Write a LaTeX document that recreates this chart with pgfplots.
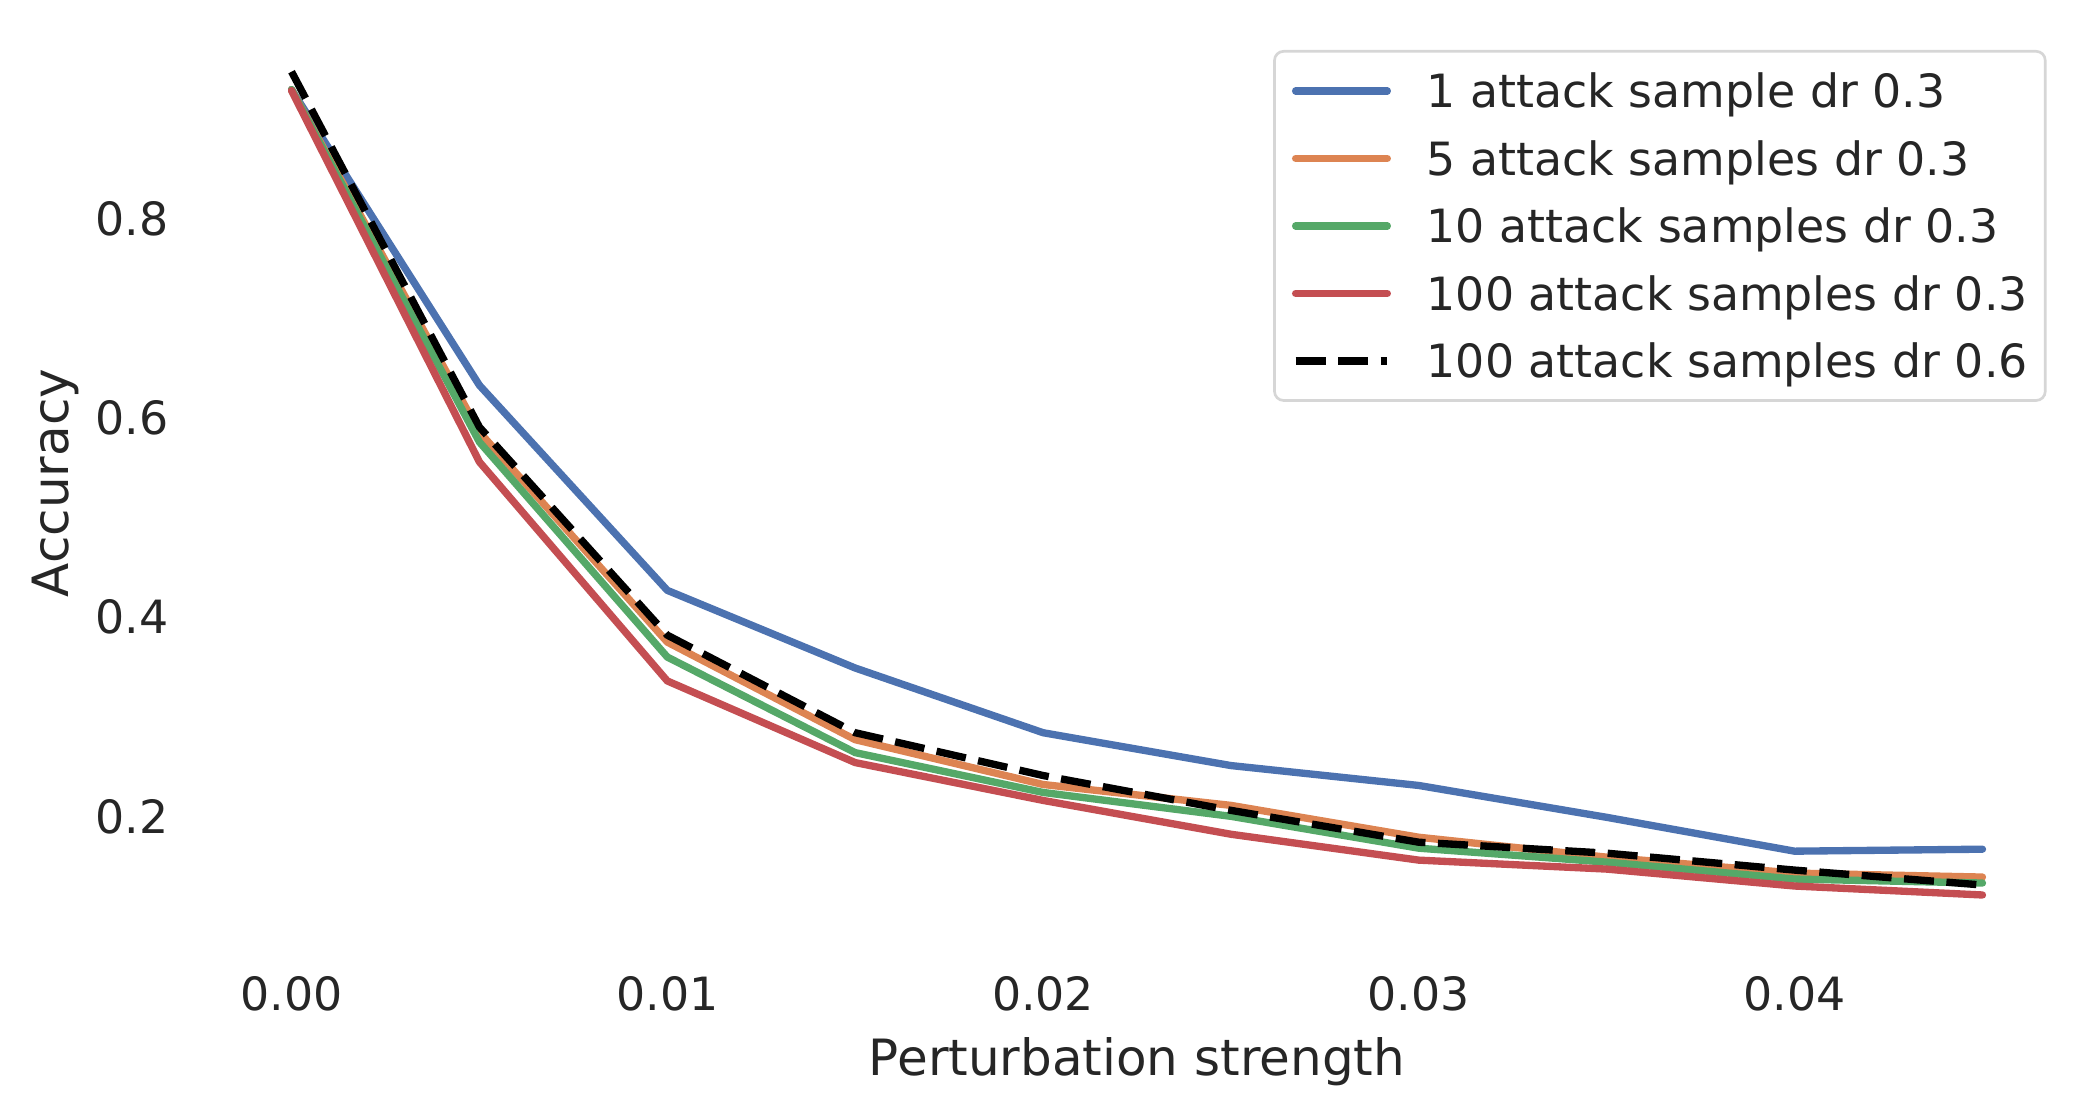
\documentclass[border=0pt]{standalone}
\usepackage{fontspec}
\setmainfont{DejaVu Sans}
\usepackage{pgfplots}
\pgfplotsset{compat=1.18}
\definecolor{sbblue}{HTML}{4C72B0}
\definecolor{sborange}{HTML}{DD8452}
\definecolor{sbgreen}{HTML}{55A868}
\definecolor{sbred}{HTML}{C44E52}
\definecolor{txt}{HTML}{262626}
\definecolor{legframe}{RGB}{214,214,214}
\begin{document}
\begin{tikzpicture}
\useasboundingbox (-49.68pt,-42.96pt) rectangle (453.6pt,224.64pt);
\begin{axis}[
  scale only axis,
  width=446.4pt, height=217.44pt,
  xmin=-0.00225, xmax=0.04725,
  ymin=0.0798, ymax=0.9899,
  axis line style={draw=none},
  tick style={draw=none},
  major tick length=0pt,
  scaled x ticks=false, scaled y ticks=false,
  xtick={0,0.01,0.02,0.03,0.04},
  xticklabels={0.00,0.01,0.02,0.03,0.04},
  ytick={0.2,0.4,0.6,0.8},
  yticklabels={0.2,0.4,0.6,0.8},
  /pgf/number format/assume math mode=true,
  ticklabel style={font=\fontsize{11}{13}\selectfont, text=txt, inner sep=0pt},
  xticklabel style={anchor=base, yshift=-17.9pt},
  yticklabel style={anchor=east, xshift=-9.0pt},
  xlabel={Perturbation strength},
  ylabel={Accuracy},
  every axis x label/.style={at={([yshift=-33.4pt]axis description cs:0.5,0)}, anchor=base,
    font=\fontsize{12}{14}\selectfont, text=txt, inner sep=0pt},
  every axis y label/.style={at={([xshift=-33.3pt]axis description cs:0,0.5)}, anchor=base, rotate=90,
    font=\fontsize{12}{14}\selectfont, text=txt, inner sep=0pt},
  legend image code/.code={\draw[#1] (0pt,0pt) -- (22pt,0pt);},
  legend cell align=left,
  legend style={
    at={([xshift=-4.9pt,yshift=-4.8pt]rel axis cs:1,1)}, anchor=north east,
    draw=legframe, line width=0.64pt, rounded corners=2.2pt,
    fill=white,
    font=\fontsize{11}{13}\selectfont, text=txt,
    inner xsep=4.2pt, inner ysep=1.4pt,
    column sep=8.6pt, row sep=0pt,
    nodes={inner xsep=0pt, inner ysep=1.5pt, text height=10.6pt, text depth=2.6pt, rounded corners=0pt},
  },
]
\addplot[sbblue, line width=1.76pt, line cap=round, line join=round] coordinates {
 (0,0.930) (0.005,0.633) (0.01,0.427) (0.015,0.349) (0.02,0.284)
 (0.025,0.251) (0.03,0.231) (0.035,0.199) (0.04,0.165) (0.045,0.167)};
\addlegendentry{1 attack sample dr 0.3}
\addplot[sborange, line width=1.76pt, line cap=round, line join=round] coordinates {
 (0,0.930) (0.005,0.586) (0.01,0.375) (0.015,0.277) (0.02,0.232)
 (0.025,0.211) (0.03,0.179) (0.035,0.159) (0.04,0.143) (0.045,0.139)};
\addlegendentry{5 attack samples dr 0.3}
\addplot[sbgreen, line width=1.76pt, line cap=round, line join=round] coordinates {
 (0,0.930) (0.005,0.576) (0.01,0.360) (0.015,0.264) (0.02,0.224)
 (0.025,0.200) (0.03,0.168) (0.035,0.154) (0.04,0.137) (0.045,0.133)};
\addlegendentry{10 attack samples dr 0.3}
\addplot[sbred, line width=1.76pt, line cap=round, line join=round] coordinates {
 (0,0.929) (0.005,0.556) (0.01,0.336) (0.015,0.254) (0.02,0.216)
 (0.025,0.182) (0.03,0.156) (0.035,0.147) (0.04,0.130) (0.045,0.121)};
\addlegendentry{100 attack samples dr 0.3}
\addplot[black, line width=1.76pt, line cap=butt, line join=miter, dash pattern=on 7.2pt off 3.0pt] coordinates {
 (0,0.948) (0.005,0.591) (0.01,0.382) (0.015,0.284) (0.02,0.241)
 (0.025,0.206) (0.03,0.174) (0.035,0.163) (0.04,0.146) (0.045,0.131)};
\addlegendentry{100 attack samples dr 0.6}
\end{axis}
\end{tikzpicture}
\end{document}
